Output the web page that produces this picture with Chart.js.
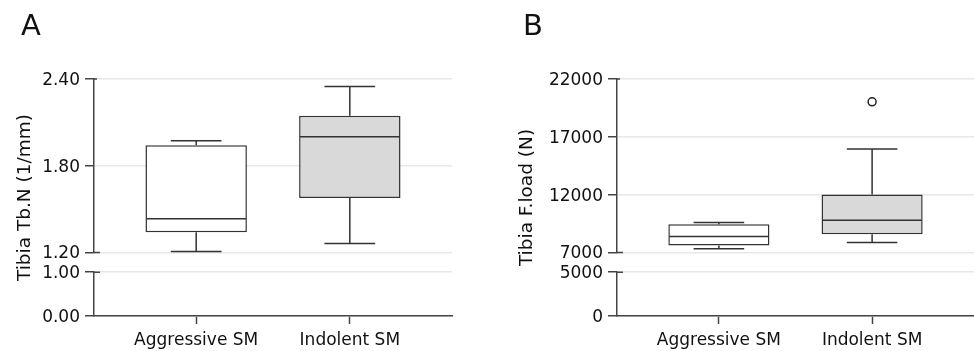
<!DOCTYPE html>
<html><head><meta charset="utf-8">
<script src="https://cdn.jsdelivr.net/npm/chart.js@4"></script>
<style>
html,body{margin:0;padding:0;background:#fff;}
#wrap{position:relative;width:974px;height:351px;overflow:hidden;}
.panel{position:absolute;top:0;width:487px;height:351px;}
canvas{display:block;}
.letter{position:absolute;font-family:"DejaVu Sans",sans-serif;font-size:29px;color:#111;line-height:1;}
</style></head><body>
<div id="wrap">
<div class="panel" style="left:0"><canvas id="cA" width="487" height="351"></canvas></div>
<div class="panel" style="left:487px"><canvas id="cB" width="487" height="351"></canvas></div>
<div class="letter" style="left:21px;top:11px">A</div>
<div class="letter" style="left:523px;top:11px">B</div>
</div>
<script>
const categories = ['Aggressive SM', 'Indolent SM'];

// Panel A: Tibia Tb.N (1/mm)
const tbnMin     = [1.207, 1.262];
const tbnQ1      = [1.339, 1.577];
const tbnMedian  = [1.433, 2.000];
const tbnQ3      = [1.942, 2.145];
const tbnMax     = [1.972, 2.348];
const tbnOutliers = [[], []];
const tbnTicksUpper = [1.2, 1.8, 2.4];
const tbnTicksLower = [0, 1.0];

// Panel B: Tibia F.load (N)
const loadMin     = [7320, 7870];
const loadQ1      = [7610, 8570];
const loadMedian  = [8370, 9790];
const loadQ3      = [9440, 12020];
const loadMax     = [9580, 15940];
const loadOutliers = [[], [20030]];
const loadTicksUpper = [7000, 12000, 17000, 22000];
const loadTicksLower = [0, 5000];

const FONT = 'DejaVu Sans';
const AXIS_COLOR = '#444';
const GRID_COLOR = '#e8e8e8';

function boxChart(id, d) {
  const fills = ['#ffffff', '#d9d9d9'];
  const boxData = categories.map((c, i) => ({x: i, y: [d.q1[i], d.q3[i]]}));
  const outPts = [];
  d.outliers.forEach((arr, i) => arr.forEach(v => outPts.push({x: i, y: v})));

  const boxPlugin = {
    id: 'boxWhiskers',
    afterDatasetsDraw(chart) {
      const c = chart.ctx, xs = chart.scales.x, ys = chart.scales.yTop;
      c.save();
      c.strokeStyle = '#333';
      c.lineWidth = 1.5;
      categories.forEach((cat, i) => {
        const xc = xs.getPixelForValue(i);
        const hw = xs.getPixelForValue(i + 0.33) - xc;
        const cw = hw / 2;
        const yMin = ys.getPixelForValue(d.min[i]);
        const yQ1 = ys.getPixelForValue(d.q1[i]);
        const yMed = ys.getPixelForValue(d.median[i]);
        const yQ3 = ys.getPixelForValue(d.q3[i]);
        const yMax = ys.getPixelForValue(d.max[i]);
        c.beginPath();
        c.moveTo(xc, yQ3); c.lineTo(xc, yMax);
        c.moveTo(xc - cw, yMax); c.lineTo(xc + cw, yMax);
        c.moveTo(xc, yQ1); c.lineTo(xc, yMin);
        c.moveTo(xc - cw, yMin); c.lineTo(xc + cw, yMin);
        c.moveTo(xc - hw + 0.75, yMed); c.lineTo(xc + hw - 0.75, yMed);
        c.stroke();
      });
      c.restore();
    },
    afterDraw(chart) {
      const c = chart.ctx, yt = chart.scales.yTop, yl = chart.scales.yLower, a = chart.chartArea;
      c.save();
      c.strokeStyle = AXIS_COLOR;
      c.lineWidth = 1.5;
      const xr = yt.right;
      c.beginPath();
      c.moveTo(xr, yt.bottom); c.lineTo(xr + 6, yt.bottom);
      c.moveTo(xr, yl.top); c.lineTo(xr + 6, yl.top);
      c.moveTo(xr, yt.top); c.lineTo(xr + 3, yt.top);
      c.stroke();
      c.translate(d.titleX, (a.top + a.bottom) / 2);
      c.rotate(-Math.PI / 2);
      c.textAlign = 'center';
      c.textBaseline = 'middle';
      c.fillStyle = '#111';
      c.font = '18.5px "' + FONT + '"';
      c.fillText(d.title, 0, 0);
      c.restore();
    }
  };

  const yAxis = (ticks, weight) => ({
    type: 'linear', position: 'left', stack: 'y', stackWeight: weight,
    min: ticks[0], max: ticks[ticks.length - 1], beginAtZero: false,
    afterBuildTicks: s => { s.ticks = ticks.map(v => ({value: v})); },
    ticks: {
      callback: v => Number(v).toFixed(d.decimals),
      font: {family: FONT, size: 17}, color: '#111', padding: 5, labelOffset: 1.5
    },
    grid: {color: GRID_COLOR, lineWidth: 1.5, tickColor: AXIS_COLOR, tickWidth: 1.5, tickLength: 9, drawTicks: true},
    border: {display: true, color: AXIS_COLOR, width: 1.5},
    afterFit: s => { s.width = d.axisWidth; }
  });

  return new Chart(document.getElementById(id), {
    type: 'bar',
    data: {
      datasets: [
        {
          type: 'bar', data: boxData, xAxisID: 'x', yAxisID: 'yTop',
          backgroundColor: fills, borderColor: '#333', borderWidth: 1.5, borderSkipped: false,
          categoryPercentage: 1, barPercentage: 0.66
        },
        {
          type: 'scatter', data: outPts, xAxisID: 'x', yAxisID: 'yTop',
          pointRadius: 4, pointBackgroundColor: '#fff', pointBorderColor: '#222', pointBorderWidth: 1.5
        }
      ]
    },
    options: {
      responsive: false, animation: false, devicePixelRatio: 1,
      layout: {autoPadding: false, padding: {left: 0, right: d.padRight, top: 79, bottom: 0}},
      plugins: {legend: {display: false}, tooltip: {enabled: false}},
      scales: {
        x: {
          type: 'linear', min: -0.665, max: 1.665, offset: false,
          afterBuildTicks: s => { s.ticks = categories.map((c, i) => ({value: i})); },
          ticks: {
            callback: v => categories[v] ?? '', autoSkip: false, maxRotation: 0,
            font: {family: FONT, size: 17}, color: '#111', padding: 6
          },
          grid: {display: true, drawOnChartArea: false, drawTicks: true, tickLength: 8, tickColor: AXIS_COLOR, tickWidth: 1.5, offset: false},
          border: {display: true, color: AXIS_COLOR, width: 1.5},
          afterFit: s => { s.height = 35; }
        },
        yLower: yAxis(d.lower, 43.7),
        yGap: {type: 'linear', position: 'left', stack: 'y', stackWeight: 19.7, display: false, min: 0, max: 1},
        yTop: yAxis(d.upper, 173)
      }
    },
    plugins: [boxPlugin]
  });
}

boxChart('cA', {
  min: tbnMin, q1: tbnQ1, median: tbnMedian, q3: tbnQ3, max: tbnMax, outliers: tbnOutliers,
  upper: tbnTicksUpper, lower: tbnTicksLower, decimals: 2,
  title: 'Tibia Tb.N (1/mm)', titleX: 25, axisWidth: 94, padRight: 35
});
boxChart('cB', {
  min: loadMin, q1: loadQ1, median: loadMedian, q3: loadQ3, max: loadMax, outliers: loadOutliers,
  upper: loadTicksUpper, lower: loadTicksLower, decimals: 0,
  title: 'Tibia F.load (N)', titleX: 40, axisWidth: 130, padRight: 0
});
</script>
</body></html>
